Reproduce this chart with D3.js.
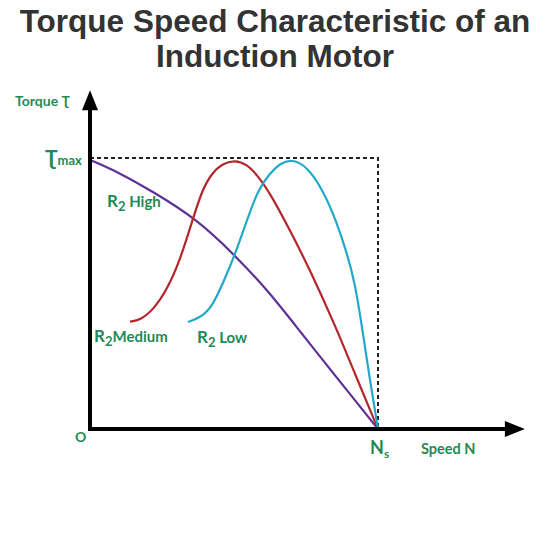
<!DOCTYPE html>
<html>
<head>
<meta charset="utf-8">
<script src="https://cdn.jsdelivr.net/npm/d3@7"></script>
<style>
  body { margin: 0; background: #fff; }
  svg { display: block; }
</style>
</head>
<body>
<div id="chart"></div>
<script>
// Speed in % of synchronous speed Ns, torque in % of Tmax
const highSpeed   = [0, 10.4, 21.9, 36.5, 50.3, 62.5, 72.9, 86.8, 100];
const highTorque  = [99.3, 94.5, 87.5, 77.9, 64.2, 50.2, 36.0, 17.5, 0];

const mediumSpeed  = [13.9, 17.4, 21.9, 26.7, 31.3, 35.4, 38.9, 42.4, 45.8, 50.3, 54.5, 58.0, 62.5, 69.4, 76.4, 85.8, 90.3, 100];
const mediumTorque = [39.6, 40.2, 43.9, 51.3, 62.4, 76.4, 88.2, 94.5, 97.8, 99.3, 97.6, 93.8, 87.1, 73.4, 58.7, 36.5, 24.7, 0];

const lowSpeed  = [34.0, 38.2, 42.4, 46.2, 50.3, 54.9, 58.3, 62.5, 66.0, 70.1, 75.3, 80.9, 85.8, 89.2, 92.0, 94.4, 97.2, 100];
const lowTorque = [39.5, 41.0, 45.0, 53.9, 64.2, 78.2, 88.2, 94.5, 98.0, 99.6, 97.0, 88.2, 76.0, 64.9, 53.9, 38.0, 18.0, 0];

const tMax = 100;
const nSync = 100;

const width = 550, height = 550;
const margin = { top: 158, right: 172, bottom: 121, left: 90 };
const green = '#1f8a56';

const svg = d3.select('#chart')
    .append('svg')
    .attr('width', width)
    .attr('height', height);

// Title
const title = svg.append('text')
    .attr('x', 275)
    .attr('text-anchor', 'middle')
    .attr('fill', '#333')
    .style('font-family', '"Liberation Sans", Arial, sans-serif')
    .style('font-weight', 'bold')
    .style('font-size', '31.5px');
title.append('tspan').attr('x', 275).attr('y', 32).text('Torque Speed Characteristic of an');
title.append('tspan').attr('x', 275).attr('y', 67).text('Induction Motor');

const x = d3.scaleLinear()
    .domain([0, nSync])
    .range([margin.left, width - margin.right]);

const y = d3.scaleLinear()
    .domain([0, tMax])
    .range([height - margin.bottom, margin.top]);

// Dashed Tmax / Ns guide
svg.append('path')
    .attr('d', d3.line()([[x(0), y(tMax)], [x(nSync), y(tMax)], [x(nSync), y(0)]]))
    .attr('fill', 'none')
    .attr('stroke', '#222')
    .attr('stroke-width', 2)
    .attr('stroke-dasharray', '4,3');

// Curves (B-spline smooths out reading noise)
const line = d3.line()
    .x(d => x(d[0]))
    .y(d => y(d[1]))
    .curve(d3.curveBasis);

const curves = [
    { speed: highSpeed, torque: highTorque, color: '#5e2f97' },
    { speed: mediumSpeed, torque: mediumTorque, color: '#b3262b' },
    { speed: lowSpeed, torque: lowTorque, color: '#22a9c9' }
];

curves.forEach(c => {
    svg.append('path')
        .attr('d', line(d3.zip(c.speed, c.torque)))
        .attr('fill', 'none')
        .attr('stroke', c.color)
        .attr('stroke-width', 2.2);
});

// Axes with arrowheads
const xEnd = x(nSync * 1.51);
const yEnd = y(tMax * 1.25);

svg.append('line')
    .attr('x1', x(0)).attr('y1', y(0))
    .attr('x2', xEnd - 14).attr('y2', y(0))
    .attr('stroke', '#000').attr('stroke-width', 4);
svg.append('line')
    .attr('x1', x(0)).attr('y1', y(0) + 2)
    .attr('x2', x(0)).attr('y2', yEnd + 14)
    .attr('stroke', '#000').attr('stroke-width', 4);

svg.append('path')
    .attr('d', `M${xEnd},${y(0)} L${xEnd - 20},${y(0) - 8} L${xEnd - 20},${y(0) + 8} Z`)
    .attr('fill', '#000');
svg.append('path')
    .attr('d', `M${x(0)},${yEnd} L${x(0) - 8},${yEnd + 20} L${x(0) + 8},${yEnd + 20} Z`)
    .attr('fill', '#000');

// Labels
const labelFont = 'Lato, "Open Sans", sans-serif';
function label(px, py, size) {
    return svg.append('text')
        .attr('x', px)
        .attr('y', py)
        .attr('fill', green)
        .style('font-family', labelFont)
        .style('font-weight', 'bold')
        .style('font-size', size + 'px');
}

label(15, 106, 14).text('Torque Ʈ');

const tm = label(45, 165, 13);
tm.append('tspan').style('font-size', '21px').text('Ʈ');
tm.append('tspan').text('max');

function rLabel(px, py, rest) {
    const t = label(px, py, 15);
    t.append('tspan').style('font-size', '17px').text('R');
    t.append('tspan').attr('dy', 4).style('font-size', '13px').text('2');
    t.append('tspan').attr('dy', -4).text(rest);
}
rLabel(107, 207, ' High');
rLabel(94, 342, 'Medium');
rLabel(197, 343, ' Low');

label(75, 442, 14).text('O');

const ns = label(x(nSync) - 8, 454, 18);
ns.append('tspan').text('N');
ns.append('tspan').attr('dy', 4).style('font-size', '12px').text('s');

label(421, 454, 14.5).text('Speed N');
</script>
</body>
</html>
